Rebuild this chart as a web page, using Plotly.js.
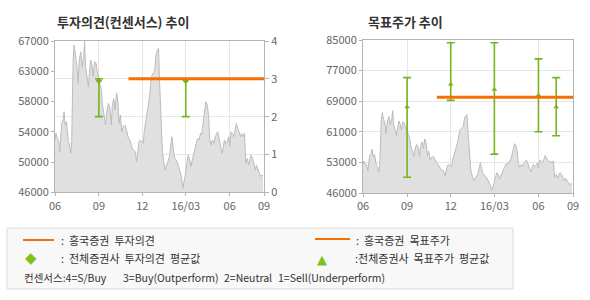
<!DOCTYPE html>
<html>
<head>
<meta charset="utf-8">
<script src="https://cdn.plot.ly/plotly-3.0.1.min.js"></script>
<style>html,body{margin:0;padding:0;background:#fff;}#chart{width:590px;height:300px;}</style>
</head>
<body>
<div id="chart"></div>
<script>
// ---- data ----
const priceDates = ['2015-06-01','2015-06-03','2015-06-05','2015-06-09','2015-06-11','2015-06-13','2015-06-15','2015-06-18','2015-06-20','2015-06-22','2015-06-25','2015-06-27','2015-06-29','2015-07-01','2015-07-04','2015-07-06','2015-07-07','2015-07-09','2015-07-11','2015-07-14','2015-07-17','2015-07-19','2015-07-22','2015-07-25','2015-07-28','2015-07-31','2015-08-02','2015-08-04','2015-08-07','2015-08-10','2015-08-12','2015-08-15','2015-08-18','2015-08-20','2015-08-23','2015-08-26','2015-08-28','2015-08-31','2015-09-03','2015-09-06','2015-09-08','2015-09-11','2015-09-15','2015-09-18','2015-09-21','2015-09-24','2015-09-27','2015-09-29','2015-10-02','2015-10-05','2015-10-08','2015-10-11','2015-10-13','2015-10-16','2015-10-19','2015-10-22','2015-10-25','2015-10-27','2015-10-30','2015-11-02','2015-11-05','2015-11-08','2015-11-10','2015-11-13','2015-11-16','2015-11-19','2015-11-22','2015-11-24','2015-11-27','2015-11-30','2015-12-03','2015-12-05','2015-12-08','2015-12-10','2015-12-12','2015-12-14','2015-12-16','2015-12-20','2015-12-23','2015-12-27','2015-12-30','2016-01-02','2016-01-04','2016-01-06','2016-01-08','2016-01-10','2016-01-12','2016-01-15','2016-01-18','2016-01-21','2016-01-24','2016-01-27','2016-01-30','2016-02-01','2016-02-04','2016-02-07','2016-02-10','2016-02-12','2016-02-15','2016-02-18','2016-02-21','2016-02-24','2016-02-27','2016-02-29','2016-03-03','2016-03-06','2016-03-09','2016-03-12','2016-03-14','2016-03-17','2016-03-20','2016-03-23','2016-03-26','2016-03-29','2016-04-01','2016-04-03','2016-04-06','2016-04-09','2016-04-12','2016-04-15','2016-04-18','2016-04-20','2016-04-23','2016-04-26','2016-04-29','2016-05-02','2016-05-04','2016-05-07','2016-05-10','2016-05-13','2016-05-16','2016-05-18','2016-05-21','2016-05-24','2016-05-27','2016-05-30','2016-06-01','2016-06-04','2016-06-07','2016-06-10','2016-06-13','2016-06-15','2016-06-18','2016-06-21','2016-06-24','2016-06-26','2016-06-29','2016-07-02','2016-07-05','2016-07-08','2016-07-11','2016-07-13','2016-07-16','2016-07-19','2016-07-22','2016-07-25','2016-07-27','2016-07-30','2016-08-02','2016-08-05','2016-08-08','2016-08-10'];
const price = [53260,54180,53720,53030,51640,54180,55570,56030,57190,55340,55800,54410,53030,52800,51410,53030,58000,64360,66440,64830,63440,61120,64360,65520,63440,64830,67000,63440,62050,60660,62510,64360,63440,62050,64130,63900,62970,62050,61590,60200,58350,57000,55340,57420,58350,57650,55340,57880,59000,57420,59800,58500,55570,56730,54410,55110,55340,55110,54180,53490,53260,52330,52100,51870,51640,50250,51870,53030,53260,53030,52800,54410,55800,56500,57650,58810,59270,62050,62510,62970,65290,65840,65980,61590,58810,55110,51640,50250,49090,49790,50250,50950,52800,53720,51870,50710,50480,50250,49560,48860,48170,46550,47470,48400,49790,51180,50710,49560,50250,51180,52330,52800,53490,53260,54180,53950,55340,57420,58580,58120,56500,53490,52560,53260,52800,53720,53950,54410,53490,52330,51410,51870,53260,52800,53030,53720,52330,54410,54180,53720,55340,55570,54880,54410,53720,54180,53720,54180,50020,50710,49790,50480,51180,50710,49790,49090,49790,49320,48860,48170,48400,48260];

// 흥국증권 investment opinion (3 = Buy) and target price
const hkDates = ['2015-11-02','2016-08-12'];
const hkOpinion = [3, 3];
const hkTarget = [70400, 70400];

// consensus investment opinion (mean, min, max)
const consOpDates = ['2015-09-01','2016-03-01'];
const consOpMean = [2.95, 2.95];
const consOpMin = [2, 2];
const consOpMax = [3, 3];

// consensus target price (mean, min, max)
const consTpDates = ['2015-09-01','2015-12-01','2016-03-01','2016-06-01','2016-07-08'];
const consTpMean = [67900, 73700, 72400, 70900, 67900];
const consTpMin = [50000, 69600, 55900, 61600, 60600];
const consTpMax = [75400, 84300, 84300, 80200, 75400];

// axis ticks
const xRange = ['2015-06-01','2016-08-12'];
const xTickVals = ['2015-06-01','2015-09-01','2015-12-01','2016-03-01','2016-06-01','2016-08-12'];
const xTickText = ['06','09','12','16/03','06','09'];
const leftTickVals = [46000,50200,54400,58600,62800,67000];
const leftTickText = ['46000','50000','54000','58000','63000','67000'];
const rightTickVals = [46000,53800,61600,69400,77200,85000];
const rightTickText = ['46000','53000','61000','69000','77000','85000'];

// legend texts
const legendConsensus = ['컨센서스:4=S/Buy', '3=Buy(Outperform)', '2=Neutral', '1=Sell(Underperform)'];

// ---- styling ----
const FONT = 'Noto Sans CJK KR, DejaVu Sans, sans-serif';
const ORANGE = '#f57000';
const GREEN = '#78b41e';
const GRID = '#e6e6e6';
const LINE = '#b4b4b4';
const TICKFONT = {family: FONT, size: 11, color: '#666666'};
const NB2 = '\u00a0\u00a0';

function diff(a, b){ return a.map((v,i)=>v-b[i]); }

const areaStyle = {type:'scatter', mode:'lines', fill:'tozeroy', fillcolor:'#e0e0e0',
  line:{color:'#bcbcbc', width:1}, hoverinfo:'skip', showlegend:false};

const traces = [
  Object.assign({x: priceDates, y: price, xaxis:'x', yaxis:'y'}, areaStyle),
  {type:'scatter', mode:'markers', x: consOpDates, y: consOpMean, xaxis:'x', yaxis:'y2',
   marker:{symbol:'diamond', size:5, color:GREEN},
   error_y:{type:'data', symmetric:false, array: diff(consOpMax, consOpMean), arrayminus: diff(consOpMean, consOpMin),
            color:GREEN, thickness:1.6, width:4}, showlegend:false},
  {type:'scatter', mode:'lines', x: hkDates, y: hkOpinion, xaxis:'x', yaxis:'y2',
   line:{color:ORANGE, width:3}, showlegend:false},

  Object.assign({x: priceDates, y: price, xaxis:'x2', yaxis:'y3'}, areaStyle),
  {type:'scatter', mode:'markers', x: consTpDates, y: consTpMean, xaxis:'x2', yaxis:'y3',
   marker:{symbol:'triangle-up', size:5, color:GREEN},
   error_y:{type:'data', symmetric:false, array: diff(consTpMax, consTpMean), arrayminus: diff(consTpMean, consTpMin),
            color:GREEN, thickness:1.6, width:4}, showlegend:false},
  {type:'scatter', mode:'lines', x: hkDates, y: hkTarget, xaxis:'x2', yaxis:'y3',
   line:{color:ORANGE, width:3}, showlegend:false}
];

const xBase = {type:'date', range: xRange, tickmode:'array', tickvals: xTickVals, ticktext: xTickText,
  showgrid:true, gridcolor:GRID, showline:true, linecolor:LINE, linewidth:1, mirror:true,
  ticks:'outside', ticklen:3, tickcolor:LINE, tickfont:TICKFONT, zeroline:false, fixedrange:true};

function txt(x, y, text, size, anchor){
  return {xref:'paper', yref:'paper', x:x/590, y:1-y/300, xanchor:anchor||'left', yanchor:'middle', showarrow:false,
          text:text, font:{family:FONT, size:size, color:'#333333'}};
}

const annotations = [
  txt(55, 21, '<b>투자의견(컨센서스)\u00a0추이</b>', 13),
  txt(366, 21, '<b>목표주가\u00a0추이</b>', 13),
  txt(59, 240, ':' + NB2 + '흥국증권' + NB2 + '투자의견', 11),
  {xref:'paper', yref:'paper', x:31/590, y:1-257.5/300, xanchor:'center', yanchor:'middle', showarrow:false,
   text:'◆', font:{family:'DejaVu Sans', size:15, color:'#80c21c'}},
  txt(59, 258, ':' + NB2 + '전체증권사' + NB2 + '투자의견' + NB2 + '평균값', 11),
  txt(354, 240, ':' + NB2 + '흥국증권' + NB2 + '목표주가', 11),
  {xref:'paper', yref:'paper', x:322/590, y:1-259/300, xanchor:'center', yanchor:'middle', showarrow:false,
   text:'▲', font:{family:'DejaVu Sans', size:13, color:'#80c21c'}},
  txt(353, 258, ':전체증권사' + NB2 + '목표주가' + NB2 + '평균값', 11)
];
const consX = [22, 121, 222, 276];
legendConsensus.forEach((t, i) => annotations.push(txt(consX[i], 277, t, 10.5)));

const layout = {
  width:590, height:300, margin:{l:0,r:0,t:0,b:0}, paper_bgcolor:'#ffffff', plot_bgcolor:'#ffffff',
  showlegend:false, font:{family:FONT},
  xaxis: Object.assign({}, xBase, {domain:[55/590, 264/590], anchor:'y'}),
  yaxis: {domain:[1-192.3/300, 1-41/300], anchor:'x', range:[46000,67000], tickmode:'array',
    tickvals:leftTickVals, ticktext:leftTickText, showgrid:false, showline:true, linecolor:LINE, mirror:true,
    ticks:'outside', ticklen:3, tickcolor:LINE, tickfont:TICKFONT, zeroline:false},
  yaxis2: {overlaying:'y', side:'right', anchor:'x', range:[0,4], dtick:1, tick0:0, showgrid:true, gridcolor:GRID,
    showline:false, ticks:'outside', ticklen:4, tickcolor:LINE, tickfont:TICKFONT, zeroline:false},
  xaxis2: Object.assign({}, xBase, {domain:[363/590, 573/590], anchor:'y3'}),
  yaxis3: {domain:[1-193/300, 1-40/300], anchor:'x2', range:[46000,85000], tickmode:'array',
    tickvals:rightTickVals, ticktext:rightTickText, showgrid:true, gridcolor:GRID, showline:true, linecolor:LINE, mirror:true,
    ticks:'outside', ticklen:3, tickcolor:LINE, tickfont:TICKFONT, zeroline:false},
  shapes: [
    {type:'rect', xref:'paper', yref:'paper', x0:7/590, x1:513/590, y0:1-289/300, y1:1-228/300,
     fillcolor:'#f8f8f8', line:{color:'#dcdcdc', width:1}, layer:'below'},
    {type:'line', xref:'paper', yref:'paper', x0:23/590, x1:54/590, y0:1-240/300, y1:1-240/300, line:{color:ORANGE, width:2}},
    {type:'line', xref:'paper', yref:'paper', x0:315/590, x1:350/590, y0:1-239/300, y1:1-239/300, line:{color:ORANGE, width:2}}
  ],
  annotations: annotations
};

Plotly.newPlot('chart', traces, layout, {staticPlot:true, displayModeBar:false});
</script>
</body>
</html>
